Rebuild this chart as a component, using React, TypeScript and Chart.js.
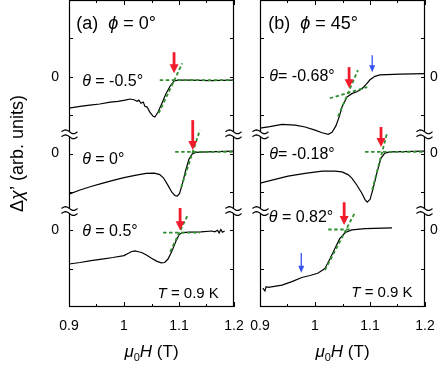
import React, { useEffect, useRef } from 'react';
import { Chart, registerables } from 'chart.js';

Chart.register(...registerables);

// ---------- axes ----------
const xTickValues = [0.9, 1.0, 1.1, 1.2];
const xTickLabels = ['0.9', '1', '1.1', '1.2'];
const xMinorTicks = [0.95, 1.05, 1.15];
const yTickValues = [1, 2, 3, 4, 5, 6, 7];
const yZeroLevels = [2, 4, 6];
const yZeroLabels = ['0', '0', '0'];
const yBreaks = [2.5, 4.5];

// ---------- panel (a) phi = 0 ----------
const a1X = [0.9, 0.92, 0.938, 0.956, 0.975, 0.989, 1.002, 1.011, 1.018, 1.024, 1.027, 1.031, 1.035, 1.038, 1.042, 1.047, 1.053, 1.056, 1.062, 1.069, 1.076, 1.084, 1.091, 1.098, 1.12, 1.156, 1.2];
const a1Y = [5.18, 5.23, 5.26, 5.29, 5.34, 5.36, 5.39, 5.42, 5.4, 5.36, 5.39, 5.31, 5.34, 5.23, 5.21, 5.08, 4.97, 4.95, 5.08, 5.31, 5.55, 5.76, 5.89, 5.91, 5.91, 5.9, 5.91];

const a2X = [0.9, 0.92, 0.94, 0.96, 0.98, 1.0, 1.02, 1.04, 1.055, 1.065, 1.072, 1.08, 1.087, 1.093, 1.097, 1.101, 1.106, 1.112, 1.118, 1.124, 1.13, 1.15, 1.2];
const a2Y = [2.94, 3.05, 3.14, 3.22, 3.3, 3.37, 3.43, 3.48, 3.49, 3.45, 3.36, 3.17, 2.99, 2.9, 2.89, 2.96, 3.2, 3.55, 3.85, 3.99, 4.03, 4.04, 4.06];

const a3X = [0.9, 0.92, 0.94, 0.96, 0.98, 1.0, 1.008, 1.013, 1.02, 1.026, 1.032, 1.04, 1.05, 1.06, 1.068, 1.074, 1.08, 1.087, 1.094, 1.1, 1.106, 1.12, 1.14, 1.16, 1.165, 1.17, 1.173, 1.176, 1.179, 1.183];
const a3Y = [1.12, 1.16, 1.21, 1.25, 1.29, 1.34, 1.4, 1.44, 1.46, 1.44, 1.42, 1.36, 1.27, 1.19, 1.15, 1.16, 1.25, 1.45, 1.7, 1.88, 1.94, 1.95, 1.96, 1.98, 1.96, 2.0, 1.93, 2.02, 1.95, 1.98];

// ---------- panel (b) phi = 45 ----------
const b1X = [0.9, 0.918, 0.94, 0.964, 0.982, 1.0, 1.013, 1.024, 1.031, 1.038, 1.045, 1.049, 1.058, 1.067, 1.076, 1.085, 1.093, 1.1, 1.109, 1.118, 1.155, 1.2];
const b1Y = [4.66, 4.7, 4.76, 4.74, 4.69, 4.61, 4.54, 4.5, 4.55, 4.72, 5.0, 5.21, 5.47, 5.56, 5.61, 5.68, 5.8, 5.92, 6.01, 6.05, 6.07, 6.08];

const b2X = [0.9, 0.951, 0.982, 1.013, 1.036, 1.049, 1.06, 1.067, 1.076, 1.085, 1.091, 1.095, 1.1, 1.105, 1.113, 1.12, 1.127, 1.136, 1.2];
const b2Y = [3.23, 3.41, 3.48, 3.54, 3.54, 3.52, 3.45, 3.36, 3.18, 2.97, 2.8, 2.73, 2.8, 3.05, 3.52, 3.88, 4.01, 4.04, 4.06];

const b3X = [0.905, 0.909, 0.911, 0.915, 0.94, 0.958, 0.976, 0.991, 1.005, 1.018, 1.027, 1.036, 1.045, 1.055, 1.067, 1.091, 1.14];
const b3Y = [0.49, 0.42, 0.53, 0.51, 0.57, 0.66, 0.77, 0.82, 0.88, 1.0, 1.25, 1.52, 1.78, 1.94, 2.01, 2.04, 2.06];

// ---------- fit lines [x0, y0, x1, y1] ----------
const aFits = [
  [1.065, 5.91, 1.2, 5.91],
  [1.063, 5.05, 1.106, 6.35],
  [1.093, 4.04, 1.2, 4.04],
  [1.104, 3.12, 1.138, 4.61],
  [1.071, 1.94, 1.138, 1.94],
  [1.084, 1.44, 1.116, 2.4],
];
const bFits = [
  [1.027, 5.44, 1.095, 5.73],
  [1.042, 4.97, 1.078, 6.17],
  [1.091, 4.04, 1.2, 4.04],
  [1.104, 3.05, 1.131, 4.53],
  [1.024, 2.02, 1.067, 2.02],
  [1.018, 0.96, 1.073, 2.47],
];

// ---------- arrows [x, yTail, yTip] ----------
const aRedArrows = [
  [1.091, 6.64, 6.09],
  [1.125, 4.87, 4.09],
  [1.102, 2.58, 2.0],
];
const bRedArrows = [
  [1.062, 6.25, 5.7],
  [1.12, 4.69, 4.17],
  [1.053, 2.73, 2.14],
];
const bBlueArrows = [
  [1.104, 6.56, 6.12],
  [0.975, 1.41, 0.89],
];

// ---------- texts ----------
type Part = { t: string; i?: boolean; sub?: boolean };
const aTexts: Part[][] = [
  [{ t: '(a)  ' }, { t: 'ϕ', i: true }, { t: ' = 0°' }],
  [{ t: 'θ', i: true }, { t: ' = -0.5°' }],
  [{ t: 'θ', i: true }, { t: ' = 0°' }],
  [{ t: 'θ', i: true }, { t: ' = 0.5°' }],
  [{ t: 'T', i: true }, { t: ' = 0.9 K' }],
];
const bTexts: Part[][] = [
  [{ t: '(b)  ' }, { t: 'ϕ', i: true }, { t: ' = 45°' }],
  [{ t: 'θ', i: true }, { t: '= -0.68°' }],
  [{ t: 'θ', i: true }, { t: '= -0.18°' }],
  [{ t: 'θ', i: true }, { t: ' = 0.82°' }],
  [{ t: 'T', i: true }, { t: ' = 0.9 K' }],
];
const xTitle: Part[] = [{ t: 'μ', i: true }, { t: '0', sub: true }, { t: 'H', i: true }, { t: ' (T)' }];
const yTitle: Part[] = [{ t: 'Δ' }, { t: 'χ', i: true }, { t: '’ (arb. units)' }];

// text placement (data coords) and sizes
const aTextPos = [[0.913, 7.24, 18], [0.924, 5.76, 16], [0.924, 3.72, 16], [0.924, 1.85, 16], [1.061, 0.24, 15]];
const bTextPos = [[0.915, 7.24, 18], [0.917, 5.89, 16], [0.917, 3.85, 16], [0.916, 2.21, 16], [1.066, 0.27, 15]];

const FONT = '"Liberation Sans", Arial, Helvetica, sans-serif';
const GREEN = '#2f8f2f';
const RED = '#f01c2c';
const BLUE = '#3553f0';

function partsWidth(ctx: CanvasRenderingContext2D, parts: Part[], size: number) {
  let w = 0;
  for (const p of parts) {
    ctx.font = `${p.i ? 'italic ' : ''}${p.sub ? Math.round(size * 0.62) : size}px ${FONT}`;
    w += ctx.measureText(p.t).width;
  }
  return w;
}

function drawRich(ctx: CanvasRenderingContext2D, parts: Part[], x: number, y: number, size: number, align: 'left' | 'center' = 'left') {
  let cx = align === 'center' ? x - partsWidth(ctx, parts, size) / 2 : x;
  ctx.textAlign = 'left';
  ctx.textBaseline = 'alphabetic';
  ctx.fillStyle = '#000';
  for (const p of parts) {
    ctx.font = `${p.i ? 'italic ' : ''}${p.sub ? Math.round(size * 0.62) : size}px ${FONT}`;
    ctx.fillText(p.t, cx, p.sub ? y + size * 0.22 : y);
    cx += ctx.measureText(p.t).width;
  }
}

function drawArrow(ctx: CanvasRenderingContext2D, x: number, y0: number, y1: number, color: string, shaft: number, headW: number, headL: number) {
  ctx.save();
  ctx.strokeStyle = color;
  ctx.fillStyle = color;
  ctx.lineWidth = shaft;
  ctx.beginPath();
  ctx.moveTo(x, y0);
  ctx.lineTo(x, y1 - headL + 1);
  ctx.stroke();
  ctx.beginPath();
  ctx.moveTo(x - headW / 2, y1 - headL);
  ctx.lineTo(x + headW / 2, y1 - headL);
  ctx.lineTo(x, y1);
  ctx.closePath();
  ctx.fill();
  ctx.restore();
}

function drawBreak(ctx: CanvasRenderingContext2D, x: number, y: number) {
  ctx.save();
  ctx.fillStyle = '#fff';
  ctx.fillRect(x - 2, y - 2.5, 4, 5);
  ctx.strokeStyle = '#000';
  ctx.lineWidth = 1.2;
  for (const dy of [-2.5, 2.5]) {
    ctx.beginPath();
    for (let k = 0; k <= 16; k++) {
      const px = x - 8 + k;
      const py = y + dy - 1.9 * Math.sin((k / 16) * 2 * Math.PI);
      if (k === 0) ctx.moveTo(px, py);
      else ctx.lineTo(px, py);
    }
    ctx.stroke();
  }
  ctx.restore();
}

function makePlugin(panel: 'a' | 'b') {
  return {
    id: 'decor' + panel,
    afterDatasetsDraw(chart: any) {
      const ctx: CanvasRenderingContext2D = chart.ctx;
      const xs = chart.scales.x;
      const ys = chart.scales.y;
      const { left, right, top, bottom } = chart.chartArea;
      ctx.save();
      // frame
      ctx.strokeStyle = '#000';
      ctx.lineWidth = 1.2;
      ctx.strokeRect(left + 0.5, top + 0.5, right - left - 1, bottom - top - 1);
      ctx.lineWidth = 1;
      // x ticks
      for (const v of xTickValues) {
        const px = Math.round(xs.getPixelForValue(v)) + 0.5;
        ctx.beginPath();
        ctx.moveTo(px, bottom); ctx.lineTo(px, bottom - 5);
        ctx.moveTo(px, top); ctx.lineTo(px, top + 5);
        ctx.stroke();
      }
      for (const v of xMinorTicks) {
        const px = Math.round(xs.getPixelForValue(v)) + 0.5;
        ctx.beginPath();
        ctx.moveTo(px, bottom); ctx.lineTo(px, bottom - 3);
        ctx.moveTo(px, top); ctx.lineTo(px, top + 3);
        ctx.stroke();
      }
      for (const v of yTickValues) {
        const py = Math.round(ys.getPixelForValue(v)) + 0.5;
        ctx.beginPath();
        ctx.moveTo(left, py); ctx.lineTo(left + 4, py);
        ctx.moveTo(right, py); ctx.lineTo(right - 4, py);
        ctx.stroke();
      }
      for (const v of yBreaks) {
        const py = ys.getPixelForValue(v);
        drawBreak(ctx, left + 0.5, py);
        drawBreak(ctx, right - 0.5, py);
      }
      // arrows
      const reds = panel === 'a' ? aRedArrows : bRedArrows;
      for (const [x, y0, y1] of reds) {
        drawArrow(ctx, xs.getPixelForValue(x), ys.getPixelForValue(y0), ys.getPixelForValue(y1), RED, 2.8, 9, 9);
      }
      if (panel === 'b') {
        for (const [x, y0, y1] of bBlueArrows) {
          drawArrow(ctx, xs.getPixelForValue(x), ys.getPixelForValue(y0), ys.getPixelForValue(y1), BLUE, 1.3, 6, 7);
        }
      }
      // texts
      const texts = panel === 'a' ? aTexts : bTexts;
      const pos = panel === 'a' ? aTextPos : bTextPos;
      texts.forEach((parts, i) => {
        const [x, y, s] = pos[i];
        drawRich(ctx, parts, xs.getPixelForValue(x), ys.getPixelForValue(y), s);
      });
      // x title
      drawRich(ctx, xTitle, (left + right) / 2, 357, 17, 'center');
      // y title (left panel only)
      if (panel === 'a') {
        ctx.save();
        ctx.translate(23, (top + bottom) / 2);
        ctx.rotate(-Math.PI / 2);
        drawRich(ctx, yTitle, 0, 0, 18, 'center');
        ctx.restore();
      }
      ctx.restore();
    },
  };
}

function curve(xs: number[], ys: number[]) {
  return {
    data: xs.map((x, i) => ({ x, y: ys[i] })),
    borderColor: '#000',
    borderWidth: 1.2,
    pointRadius: 0,
    tension: 0,
    order: 2,
  };
}

function fit(f: number[]) {
  return {
    data: [{ x: f[0], y: f[1] }, { x: f[2], y: f[3] }],
    borderColor: GREEN,
    borderWidth: 1.8,
    borderDash: [3.5, 2.5],
    pointRadius: 0,
    order: 1,
  };
}

function buildConfig(panel: 'a' | 'b') {
  const curves = panel === 'a'
    ? [curve(a1X, a1Y), curve(a2X, a2Y), curve(a3X, a3Y)]
    : [curve(b1X, b1Y), curve(b2X, b2Y), curve(b3X, b3Y)];
  const fits = (panel === 'a' ? aFits : bFits).map(fit);
  return {
    type: 'line' as const,
    data: { datasets: [...fits, ...curves] },
    options: {
      animation: false as const,
      responsive: false,
      maintainAspectRatio: false,
      events: [],
      layout: { padding: panel === 'a' ? { left: 0, right: 13, top: 0, bottom: 0 } : { left: 13, right: 0, top: 0, bottom: 0 } },
      plugins: { legend: { display: false }, tooltip: { enabled: false } },
      scales: {
        x: {
          type: 'linear' as const,
          min: 0.9,
          max: 1.2,
          grid: { display: false, drawTicks: false },
          border: { display: false },
          afterBuildTicks: (s: any) => { s.ticks = xTickValues.map((v) => ({ value: v })); },
          ticks: {
            autoSkip: false,
            maxRotation: 0,
            padding: 11,
            color: '#000',
            font: { family: FONT, size: 14 },
            callback: (v: number) => {
              const i = xTickValues.findIndex((t) => Math.abs(t - v) < 1e-6);
              return i >= 0 ? xTickLabels[i] : '';
            },
          },
          afterFit: (s: any) => { s.height = 63; s.paddingLeft = 0; s.paddingRight = 0; },
        },
        y: {
          type: 'linear' as const,
          position: panel === 'a' ? ('left' as const) : ('right' as const),
          min: 0,
          max: 8,
          grid: { display: false, drawTicks: false },
          border: { display: false },
          afterBuildTicks: (s: any) => { s.ticks = yZeroLevels.map((v) => ({ value: v })); },
          ticks: {
            autoSkip: false,
            padding: panel === 'a' ? 10 : 5,
            color: '#000',
            font: { family: FONT, size: 14 },
            callback: (v: number) => {
              const i = yZeroLevels.indexOf(v);
              return i >= 0 ? yZeroLabels[i] : '';
            },
          },
          afterFit: (s: any) => { s.width = panel === 'a' ? 69 : 18; s.paddingTop = 0; s.paddingBottom = 0; },
        },
      },
    },
    plugins: [makePlugin(panel)],
  };
}

function Panel({ panel, left, width }: { panel: 'a' | 'b'; left: number; width: number }) {
  const ref = useRef<HTMLCanvasElement>(null);
  useEffect(() => {
    if (!ref.current) return;
    const chart = new Chart(ref.current, buildConfig(panel) as any);
    return () => chart.destroy();
  }, [panel]);
  return (
    <canvas
      ref={ref}
      width={width}
      height={370}
      style={{ position: 'absolute', left, top: 0, width, height: 370 }}
    />
  );
}

export default function App() {
  return (
    <div style={{ position: 'fixed', left: 0, top: 0, width: 443, height: 370, background: '#fff', overflow: 'hidden' }}>
      <Panel panel="a" left={0} width={247} />
      <Panel panel="b" left={247} width={196} />
    </div>
  );
}
